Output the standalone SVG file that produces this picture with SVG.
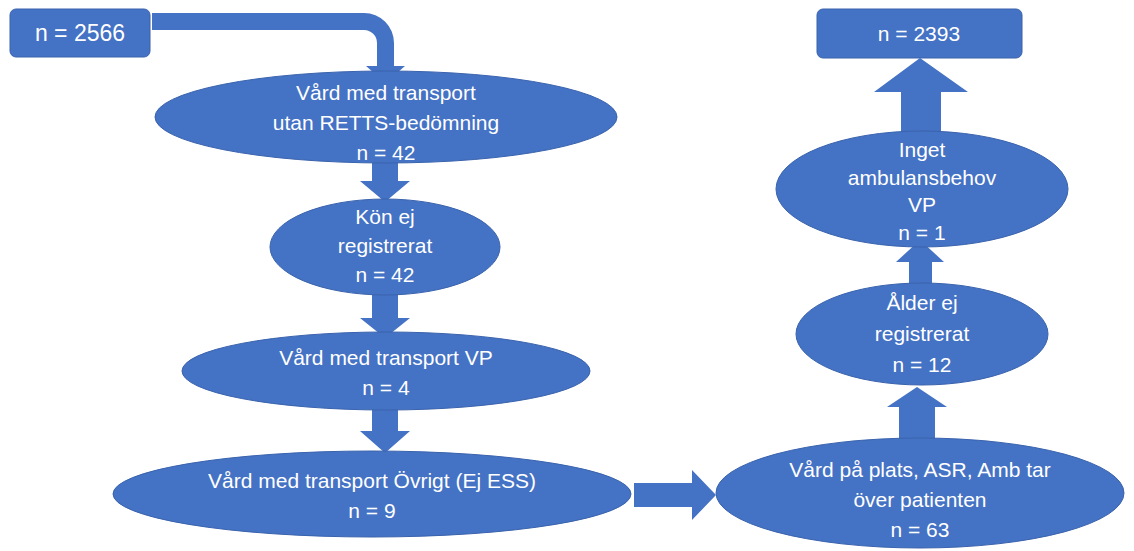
<svg xmlns="http://www.w3.org/2000/svg" width="1134" height="551" viewBox="0 0 1134 551">
<style>
.shape{fill:#4472C4;stroke:#3A63AD;stroke-width:1}
.arr{fill:#4472C4;stroke:none}
text{font-family:"Liberation Sans",Arial,sans-serif;font-size:21px;fill:#FFFFFF;text-anchor:middle}
</style>
<rect width="1134" height="551" fill="#FFFFFF"/>
<g id="connectors">
<path class="arr" d="M152,13 L364,13 A30,30 0 0 1 394,43 L394,66 L405,66 L385.5,83 L366,66 L377,66 L377,43 A13,13 0 0 0 364,30 L152,30 Z"/>
<path class="arr" d="M372,158 L398,158 L398,181 L410,181 L385,202 L360,181 L372,181 Z"/>
<path class="arr" d="M372,292 L398,292 L398,318 L410,318 L385,338 L360,318 L372,318 Z"/>
<path class="arr" d="M372,406 L398,406 L398,431 L410,431 L385,453 L360,431 L372,431 Z"/>
<path class="arr" d="M634,483 L692,483 L692,470 L716,495 L692,520 L692,507 L634,507 Z"/>
<path class="arr" d="M899,442 L935,442 L935,407 L947,407 L917,387 L887,407 L899,407 Z"/>
<path class="arr" d="M909,286 L932,286 L932,262 L944,262 L920,240 L896,262 L909,262 Z"/>
<path class="arr" d="M901,134 L941,134 L941,92 L968,92 L920,58 L874,92 L901,92 Z"/>
</g>
<g id="n2566">
<rect class="shape" x="10" y="9" width="140" height="48" rx="6"/>
<text x="80" y="41" style="font-size:23px">n = 2566</text>
</g>
<g id="utanRETTS">
<ellipse class="shape" cx="386" cy="117" rx="231" ry="46"/>
<text x="386" y="100">Vård med transport</text>
<text x="386" y="130">utan RETTS-bedömning</text>
<text x="386" y="160">n = 42</text>
</g>
<g id="kon">
<ellipse class="shape" cx="385" cy="247" rx="115" ry="48"/>
<text x="385" y="224">Kön ej</text>
<text x="385" y="253">registrerat</text>
<text x="385" y="282">n = 42</text>
</g>
<g id="transportVP">
<ellipse class="shape" cx="386" cy="371" rx="204" ry="39"/>
<text x="386" y="365">Vård med transport VP</text>
<text x="386" y="395">n = 4</text>
</g>
<g id="ovrigt">
<ellipse class="shape" cx="372" cy="494" rx="259" ry="43"/>
<text x="372" y="488">Vård med transport Övrigt (Ej ESS)</text>
<text x="372" y="518">n = 9</text>
</g>
<g id="vardPaPlats">
<ellipse class="shape" cx="920" cy="493" rx="204" ry="55"/>
<text x="920" y="477">Vård på plats, ASR, Amb tar</text>
<text x="920" y="507">över patienten</text>
<text x="920" y="537">n = 63</text>
</g>
<g id="alder">
<ellipse class="shape" cx="922" cy="334" rx="126" ry="51"/>
<text x="922" y="310">Ålder ej</text>
<text x="922" y="341">registrerat</text>
<text x="922" y="372">n = 12</text>
</g>
<g id="inget">
<ellipse class="shape" cx="922" cy="189" rx="146" ry="58"/>
<text x="922" y="157">Inget</text>
<text x="922" y="185">ambulansbehov</text>
<text x="922" y="212">VP</text>
<text x="922" y="240">n = 1</text>
</g>
<g id="n2393">
<rect class="shape" x="817" y="9" width="205" height="49" rx="6"/>
<text x="919" y="41">n = 2393</text>
</g>
</svg>
